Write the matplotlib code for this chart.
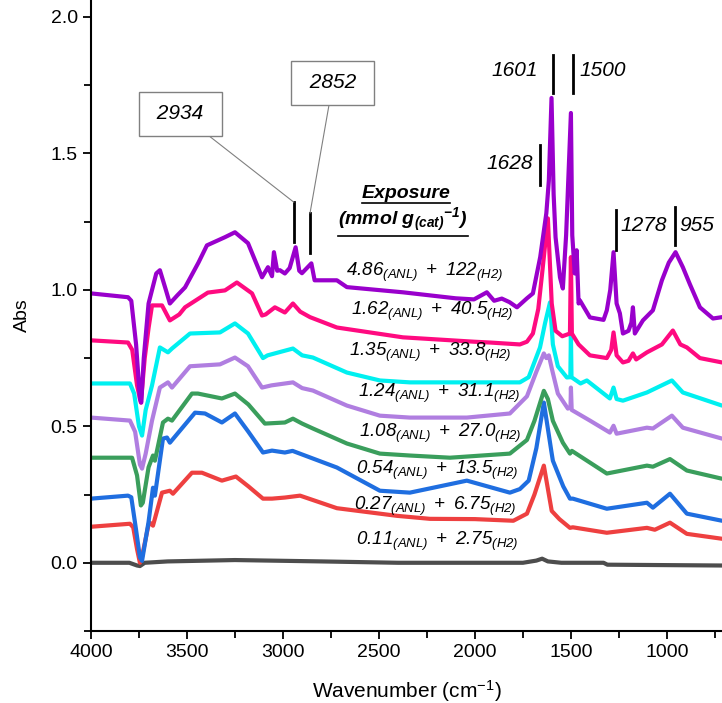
import numpy as np
import matplotlib
matplotlib.use("Agg")
import matplotlib.pyplot as plt
from matplotlib.lines import Line2D

plt.rcParams['font.family'] = ['Liberation Sans', 'DejaVu Sans']
plt.rcParams['mathtext.fontset'] = 'custom'
plt.rcParams['mathtext.rm'] = 'Liberation Sans:italic'
plt.rcParams['mathtext.it'] = 'Liberation Sans:italic'
plt.rcParams['mathtext.sf'] = 'Liberation Sans'
plt.rcParams['mathtext.bf'] = 'Liberation Sans:italic:bold'

# spectra (wavenumber in cm-1, absorbance)
wn_gray = [4000, 3800, 3760, 3745, 3720, 3600, 3250, 2800, 2400, 2000, 1750, 1680, 1650, 1620, 1550, 1330, 1310, 713]
abs_gray = [0.0, 0.0, -0.01, -0.012, 0.0, 0.005, 0.01, 0.005, 0.0, 0.0, 0.0, 0.008, 0.015, 0.005, 0.0, 0.0, -0.007, -0.01]

wn_red = [4000, 3797, 3780, 3760, 3745, 3735, 3700, 3693, 3677, 3630, 3589, 3573, 3474, 3422, 3318, 3245, 3180,
          3104, 3057, 2990, 2911, 2719, 2406, 2234, 2000, 1800, 1729, 1690, 1641, 1600, 1560, 1505, 1490, 1313,
          1104, 1063, 984, 896, 713]
abs_red = [0.132, 0.143, 0.13, 0.05, 0.0, 0.02, 0.14, 0.147, 0.136, 0.257, 0.264, 0.253, 0.33, 0.33, 0.301, 0.316, 0.28,
           0.235, 0.235, 0.239, 0.246, 0.20, 0.172, 0.161, 0.16, 0.154, 0.18, 0.25, 0.356, 0.19, 0.16, 0.128, 0.13, 0.110,
           0.128, 0.121, 0.147, 0.106, 0.088]

wn_blue = [4000, 3807, 3790, 3765, 3745, 3734, 3700, 3677, 3667, 3625, 3604, 3589, 3458, 3406, 3318, 3250, 3180,
           3104, 3057, 2990, 2950, 2719, 2495, 2339, 2042, 1818, 1766, 1720, 1680, 1641, 1600, 1594, 1540, 1505,
           1490, 1313, 1104, 1073, 984, 896, 713]
abs_blue = [0.235, 0.246, 0.24, 0.12, 0.02, 0.007, 0.15, 0.275, 0.246, 0.455, 0.459, 0.44, 0.55, 0.547, 0.514, 0.547, 0.48,
            0.404, 0.411, 0.404, 0.41, 0.349, 0.264, 0.257, 0.301, 0.257, 0.27, 0.301, 0.42, 0.587, 0.40, 0.374, 0.28, 0.235,
            0.235, 0.198, 0.22, 0.202, 0.253, 0.18, 0.154]

wn_green = [4000, 3786, 3760, 3740, 3730, 3700, 3677, 3667, 3625, 3599, 3578, 3474, 3443, 3318, 3250, 3180, 3094,
            2990, 2948, 2900, 2844, 2667, 2495, 2339, 2130, 1818, 1729, 1690, 1641, 1620, 1594, 1542, 1505, 1495,
            1313, 1104, 1073, 984, 896, 713]
abs_green = [0.385, 0.385, 0.32, 0.21, 0.22, 0.35, 0.393, 0.374, 0.514, 0.528, 0.521, 0.62, 0.62, 0.602, 0.62, 0.58, 0.51,
             0.514, 0.528, 0.51, 0.492, 0.437, 0.400, 0.393, 0.385, 0.400, 0.45, 0.52, 0.63, 0.60, 0.52, 0.44, 0.40, 0.41,
             0.327, 0.356, 0.352, 0.38, 0.338, 0.308]

wn_lav = [4000, 3797, 3770, 3745, 3734, 3715, 3682, 3641, 3599, 3578, 3484, 3328, 3250, 3182, 3109, 3060, 2948,
          2900, 2844, 2667, 2495, 2339, 2042, 1818, 1729, 1680, 1641, 1628, 1615, 1599, 1568, 1516, 1502, 1500,
          1496, 1401, 1297, 1278, 1262, 1104, 1073, 974, 917, 713]
abs_lav = [0.532, 0.521, 0.48, 0.36, 0.345, 0.40, 0.521, 0.642, 0.661, 0.642, 0.72, 0.727, 0.752, 0.72, 0.642, 0.65, 0.661,
           0.64, 0.631, 0.576, 0.539, 0.532, 0.532, 0.547, 0.61, 0.70, 0.767, 0.75, 0.76, 0.71, 0.62, 0.565, 0.57, 0.642,
           0.56, 0.521, 0.477, 0.502, 0.473, 0.495, 0.492, 0.539, 0.495, 0.455]

wn_cyan = [4000, 3797, 3775, 3750, 3734, 3715, 3682, 3641, 3599, 3578, 3484, 3328, 3250, 3182, 3104, 3080, 2948,
           2900, 2844, 2667, 2495, 2339, 2000, 1766, 1720, 1661, 1635, 1609, 1594, 1568, 1521, 1503, 1500, 1497,
           1450, 1417, 1297, 1278, 1262, 1229, 1104, 974, 917, 713]
abs_cyan = [0.657, 0.657, 0.62, 0.50, 0.466, 0.56, 0.650, 0.789, 0.771, 0.785, 0.84, 0.844, 0.877, 0.84, 0.75, 0.76, 0.785,
            0.76, 0.752, 0.697, 0.668, 0.661, 0.661, 0.661, 0.68, 0.789, 0.877, 0.954, 0.80, 0.72, 0.679, 0.68, 0.844, 0.68,
            0.657, 0.668, 0.602, 0.642, 0.60, 0.594, 0.624, 0.668, 0.624, 0.576]

wn_pink = [4000, 3807, 3785, 3760, 3740, 3720, 3700, 3682, 3630, 3589, 3540, 3510, 3391, 3302, 3240, 3161, 3109,
           3090, 3042, 2990, 2948, 2910, 2859, 2719, 2375, 2005, 1922, 1766, 1729, 1698, 1670, 1650, 1620, 1600,
           1580, 1545, 1505, 1500, 1495, 1460, 1401, 1313, 1290, 1278, 1262, 1229, 1200, 1177, 1160, 1104, 1026,
           969, 930, 896, 828, 713]
abs_pink = [0.815, 0.807, 0.78, 0.65, 0.587, 0.75, 0.86, 0.943, 0.943, 0.888, 0.91, 0.936, 0.99, 0.998, 1.027, 0.987, 0.906,
            0.91, 0.936, 0.917, 0.95, 0.92, 0.90, 0.862, 0.826, 0.81, 0.807, 0.80, 0.81, 0.84, 0.93, 1.06, 1.262, 0.95,
            0.85, 0.83, 0.84, 1.12, 0.84, 0.80, 0.76, 0.75, 0.78, 0.844, 0.76, 0.734, 0.74, 0.767, 0.745, 0.771, 0.80,
            0.851, 0.80, 0.789, 0.75, 0.734]

wn_purple = [4000, 3807, 3790, 3765, 3745, 3738, 3725, 3700, 3660, 3641, 3610, 3589, 3550, 3510, 3440, 3396, 3302,
             3250, 3182, 3109, 3078, 3057, 3047, 3030, 3016, 2990, 2965, 2934, 2915, 2901, 2852, 2835, 2719, 2667,
             2375, 2100, 2005, 1938, 1900, 1860, 1820, 1781, 1729, 1698, 1660, 1628, 1615, 1601, 1590, 1580, 1557,
             1542, 1525, 1500, 1493, 1480, 1470, 1460, 1453, 1401, 1330, 1313, 1295, 1278, 1262, 1245, 1229, 1200,
             1185, 1177, 1167, 1125, 1073, 1026, 990, 955, 917, 880, 828, 760, 713]
abs_purple = [0.987, 0.973, 0.96, 0.80, 0.60, 0.587, 0.75, 0.95, 1.06, 1.072, 1.0, 0.95, 0.98, 1.009, 1.10, 1.163, 1.193,
              1.211, 1.171, 1.046, 1.083, 1.05, 1.138, 1.07, 1.072, 1.06, 1.08, 1.156, 1.07, 1.061, 1.097, 1.035, 1.035, 1.01,
              0.991, 0.969, 0.965, 0.991, 0.96, 0.968, 0.955, 0.936, 0.969, 0.987, 1.12, 1.281, 1.4, 1.703, 1.35, 1.193, 1.046,
              1.005, 1.2, 1.648, 1.2, 1.06, 1.145, 0.95, 0.961, 0.899, 0.89, 0.925, 1.0, 1.138, 0.95, 0.914, 0.84, 0.85,
              0.88, 0.936, 0.84, 0.888, 0.925, 1.035, 1.10, 1.138, 1.083, 1.02, 0.936, 0.895, 0.90]

series = [
    (wn_gray, abs_gray, '#4d4d4d'),
    (wn_red, abs_red, '#ee4040'),
    (wn_blue, abs_blue, '#1f6ee0'),
    (wn_green, abs_green, '#3a9e5c'),
    (wn_lav, abs_lav, '#b07ee0'),
    (wn_cyan, abs_cyan, '#00f0f0'),
    (wn_pink, abs_pink, '#ff0a80'),
    (wn_purple, abs_purple, '#9900cc'),
]

# exposure labels: (ANL, H2, x position, y position)
exp_anl = ['4.86', '1.62', '1.35', '1.24', '1.08', '0.54', '0.27', '0.11']
exp_h2 = ['122', '40.5', '33.8', '31.1', '27.0', '13.5', '6.75', '2.75']
exp_x = [2672, 2646, 2656, 2609, 2604, 2620, 2630, 2620]
exp_y = [1.064, 0.921, 0.771, 0.620, 0.473, 0.338, 0.206, 0.077]

# peak markers: label, bar x, bar y0, bar y1, text x, text y, alignment
peaks = [
    ('1601', 1594, 1.721, 1.861, 1672, 1.802, 'right'),
    ('1500', 1490, 1.721, 1.861, 1458, 1.802, 'left'),
    ('1628', 1661, 1.383, 1.530, 1698, 1.464, 'right'),
    ('1278', 1266, 1.145, 1.292, 1240, 1.237, 'left'),
    ('955', 959, 1.163, 1.303, 938, 1.237, 'left'),
]
# boxed peaks: label, bar x, bar y0, bar y1, box x, box y
box_peaks = [
    ('2934', 2943, 1.174, 1.321, 3534, 1.646),
    ('2852', 2859, 1.134, 1.281, 2740, 1.758),
]

fig = plt.figure(figsize=(7.22, 7.03), dpi=100)
ax = fig.add_axes([0.126, 0.1024, 0.874, 0.8976])

for wn, a, c in series:
    ax.plot(wn, a, color=c, lw=3.0, solid_joinstyle='round', solid_capstyle='round')

ax.set_xlim(4000, 713)
ax.set_ylim(-0.25, 2.062)
ax.set_xticks([4000, 3500, 3000, 2500, 2000, 1500, 1000])
ax.set_xticks(np.arange(3750, 700, -500), minor=True)
ax.set_yticks([0.0, 0.5, 1.0, 1.5, 2.0])
ax.set_yticks([-0.25, 0.25, 0.75, 1.25, 1.75], minor=True)
ax.set_yticklabels(['0.0', '0.5', '1.0', '1.5', '2.0'])
ax.tick_params(which='major', direction='out', length=6, width=1.3, labelsize=14)
ax.tick_params(which='minor', direction='out', length=5, width=1.3)
for s in ['top', 'right']:
    ax.spines[s].set_visible(False)
for s in ['left', 'bottom']:
    ax.spines[s].set_linewidth(1.5)

ax.set_xlabel(r'Wavenumber (cm$^{\mathsf{-1}}$)', fontsize=15, labelpad=12)
ax.set_ylabel('Abs', fontsize=14, labelpad=14)

for anl, h2, x, y in zip(exp_anl, exp_h2, exp_x, exp_y):
    s = r'$%s_{(ANL)}\ +\ %s_{(H2)}$' % (anl, h2)
    ax.text(x, y, s, fontsize=13.5, ha='left', va='center')

for lab, bx, y0, y1, tx, ty, ha in peaks:
    ax.plot([bx, bx], [y0, y1], color='black', lw=2)
    ax.text(tx, ty, lab, fontsize=15, style='italic', ha=ha, va='center')

for lab, bx, y0, y1, tx, ty in box_peaks:
    ax.plot([bx, bx], [y0, y1], color='black', lw=2)
    ax.annotate(' ' + lab + ' ', xy=(bx, y1), xytext=(tx, ty), fontsize=15, style='italic',
                ha='center', va='center',
                bbox=dict(boxstyle='square,pad=0.6', fc='white', ec='#808080', lw=1),
                arrowprops=dict(arrowstyle='-', color='#808080', lw=0.8, shrinkA=0, shrinkB=0))

t1 = ax.text(2359, 1.354, 'Exposure', fontsize=14, fontweight='bold', style='italic', ha='center', va='center')
t2 = ax.text(2375, 1.255, r'$\mathbf{(mmol\ g_{(cat)}{}^{-1})}$', fontsize=14, ha='center', va='center')

fig.canvas.draw()
r = fig.canvas.get_renderer()
for t in [t1, t2]:
    bb = t.get_window_extent(r).transformed(fig.transFigure.inverted())
    fig.add_artist(Line2D([bb.x0, bb.x1], [bb.y0 - 0.002, bb.y0 - 0.002], color='black', lw=1.2,
                          transform=fig.transFigure))

fig.savefig('out.png', dpi=100)
